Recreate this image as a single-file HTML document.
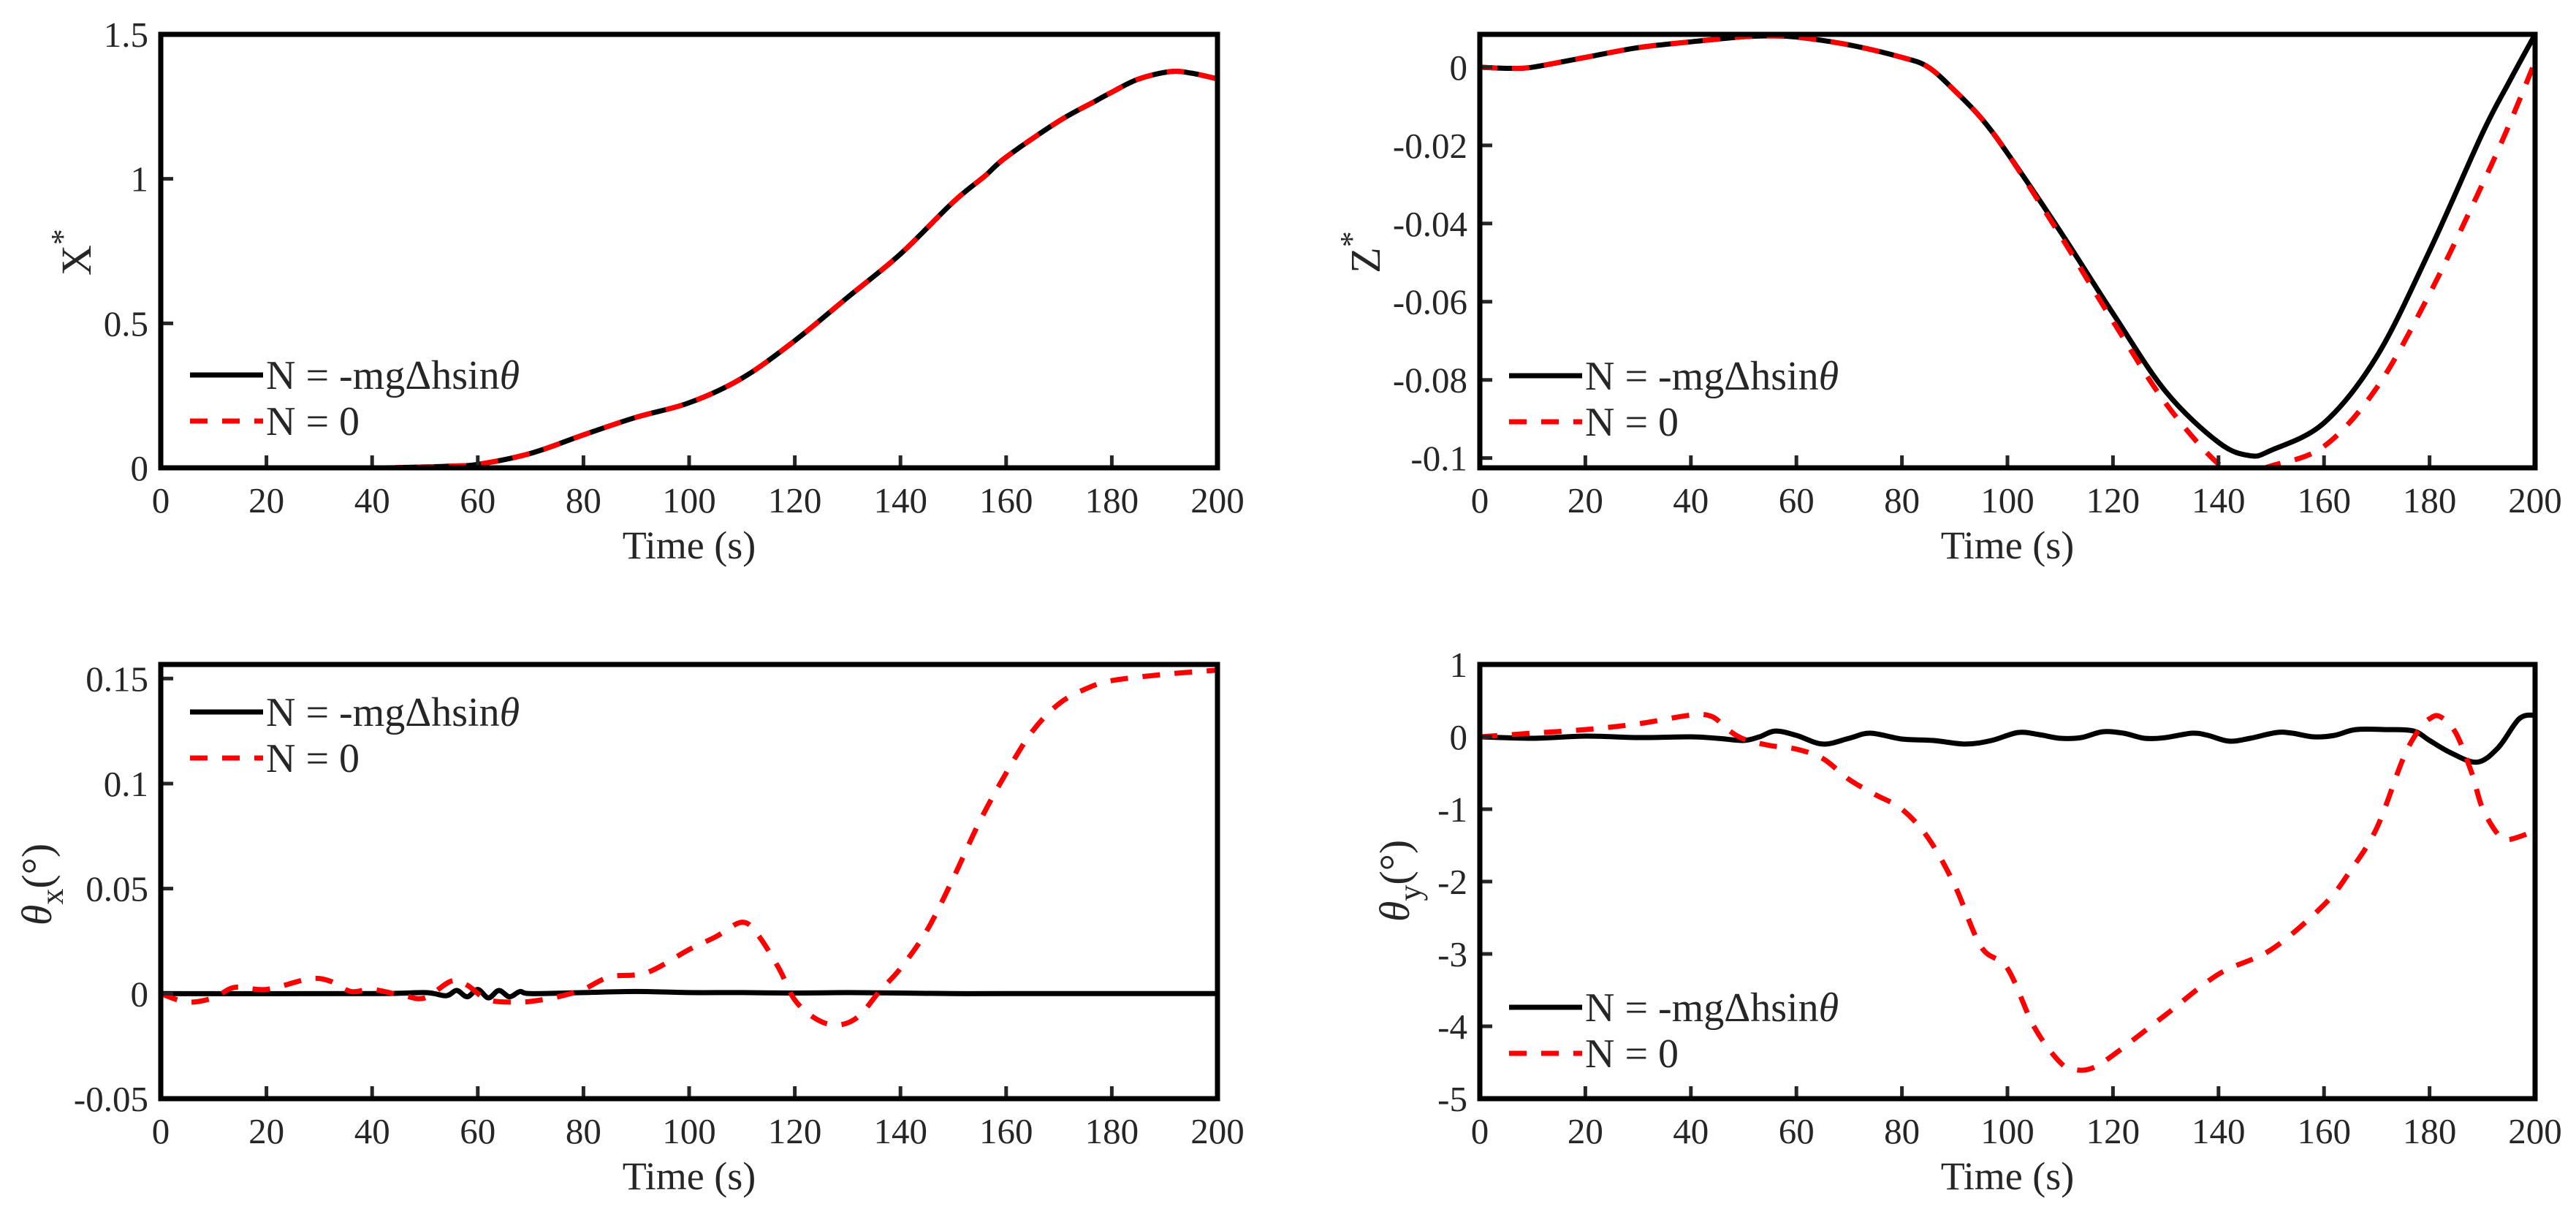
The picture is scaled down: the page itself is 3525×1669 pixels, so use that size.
<!DOCTYPE html>
<html><head><meta charset="utf-8"><style>
html,body{margin:0;padding:0;background:#fff;}
svg{display:block;}
text{font-family:"Liberation Serif",serif;fill:#262626;}
</style></head><body>
<svg id="fig" width="3525" height="1669" viewBox="0 0 3525 1669" xmlns="http://www.w3.org/2000/svg"></svg>
<script>
// ---- Data ----
const tX = [0,40,45,50,55,60,70,80,90,100,110,120,130,140,150,156,160,170,177,180,185,191,195,200];
const xBlack = [0,0,0.001,0.003,0.006,0.012,0.05,0.114,0.175,0.225,0.31,0.44,0.59,0.74,0.92,1.01,1.075,1.2,1.27,1.3,1.345,1.371,1.366,1.346];
const xRed = xBlack.slice();

const tZb = [0,3,6,10,20,30,40,50,55,60,70,80,85,90,95,100,110,120,130,140,146,150,160,170,180,190,195,200];
const zBlack = [0,-0.0002,-0.0003,0,0.0025,0.005,0.0065,0.0078,0.008,0.0077,0.0057,0.0025,0,-0.006,-0.013,-0.022,-0.042,-0.063,-0.083,-0.096,-0.0994,-0.098,-0.091,-0.074,-0.047,-0.017,-0.004,0.0084];
const tZr = [0,3,6,10,20,30,40,50,55,60,70,80,85,90,95,100,110,120,130,140,145,150,160,170,180,190,195,200];
const zRed = [0,-0.0002,-0.0003,0,0.0025,0.005,0.0065,0.0078,0.008,0.0077,0.0057,0.0025,0,-0.006,-0.013,-0.022,-0.043,-0.065,-0.086,-0.1015,-0.1035,-0.102,-0.097,-0.082,-0.058,-0.03,-0.015,0.0014];

const tTx = [0,40,50,54,56,58,60,62,64,66,68,70,80,90,100,110,120,130,140,150,160,200];
const txBlack = [0,0,0.0005,-0.001,0.0015,-0.0015,0.002,-0.002,0.0015,-0.0015,0.001,0,0.0005,0.001,0.0005,0.0005,0.0003,0.0005,0.0003,0,0,0];
const tTxR = [0,5,10,14,20,28,32,36,40,46,50,55,58,62,68,72,76,80,85,92,100,105,110,113,117,120,124,128,132,136,140,145,150,155,160,165,170,175,180,190,200];
const txRed = [0,-0.004,-0.002,0.003,0.002,0.007,0.006,0.001,0.002,-0.001,-0.002,0.006,0.004,-0.003,-0.004,-0.003,-0.001,0.002,0.008,0.01,0.021,0.027,0.034,0.028,0.012,-0.003,-0.012,-0.015,-0.011,0.001,0.012,0.03,0.055,0.082,0.105,0.125,0.138,0.145,0.149,0.152,0.154];

const tTyB = [0,10,20,30,40,45,50,53,56,60,65,70,74,80,86,92,97,102,106,110,114,118,122,126,130,135,138,142,146,151,154,158,162,166,172,177,180,184,189,193,197,200];
const tyBlack = [0,-0.02,0.01,-0.01,0,-0.02,-0.05,0.0,0.08,0.02,-0.1,-0.02,0.05,-0.03,-0.05,-0.1,-0.05,0.06,0.03,-0.02,-0.01,0.07,0.05,-0.02,-0.01,0.05,0.02,-0.06,-0.02,0.06,0.05,0.0,0.02,0.1,0.1,0.08,-0.05,-0.22,-0.35,-0.15,0.25,0.3];
const tTyR = [0,10,20,30,40,44,47,50,55,60,65,70,75,80,85,90,95,100,105,110,113,116,120,130,140,150,160,165,170,175,178,180,182,185,188,190,193,195,200];
const tyRed = [0,0.05,0.1,0.18,0.3,0.28,0.1,-0.03,-0.12,-0.17,-0.3,-0.59,-0.8,-1.0,-1.4,-2.05,-2.9,-3.2,-4.0,-4.5,-4.6,-4.58,-4.4,-3.84,-3.28,-2.94,-2.32,-1.85,-1.26,-0.3,0.1,0.25,0.28,0.05,-0.5,-0.98,-1.35,-1.42,-1.3];

const xTicks = [0,20,40,60,80,100,120,140,160,180,200];
const yTicksTL = [0,0.5,1,1.5];
const yTicksTR = [0,-0.02,-0.04,-0.06,-0.08,-0.1];
const yTicksBL = [-0.05,0,0.05,0.1,0.15];
const yTicksBR = [1,0,-1,-2,-3,-4,-5];

const NS = "http://www.w3.org/2000/svg";
const svg = document.getElementById('fig');
function mk(tag, attrs, parent){
  const e = document.createElementNS(NS, tag);
  for (const k in attrs) e.setAttribute(k, attrs[k]);
  (parent||svg).appendChild(e);
  return e;
}
// smooth path through points (Catmull-Rom)
function smoothPath(pts){
  let d = 'M' + pts[0][0].toFixed(1) + ' ' + pts[0][1].toFixed(1);
  for (let i = 0; i < pts.length - 1; i++){
    const p0 = pts[Math.max(0,i-1)], p1 = pts[i], p2 = pts[i+1], p3 = pts[Math.min(pts.length-1,i+2)];
    const c1x = p1[0] + (p2[0]-p0[0])/6, c1y = p1[1] + (p2[1]-p0[1])/6;
    const c2x = p2[0] - (p3[0]-p1[0])/6, c2y = p2[1] - (p3[1]-p1[1])/6;
    d += ' C' + c1x.toFixed(1)+' '+c1y.toFixed(1)+' '+c2x.toFixed(1)+' '+c2y.toFixed(1)+' '+p2[0].toFixed(1)+' '+p2[1].toFixed(1);
  }
  return d;
}

function panel(o){
  const g = mk('g', {});
  
  
  const X = t => o.x0 + (t - 0) / 200 * (o.x1 - o.x0);
  const Y = v => o.y1 - (v - o.ymin) / (o.ymax - o.ymin) * (o.y1 - o.y0);
  const clipId = o.name + '-clip';
  const cp = mk('clipPath', {id: clipId}, g);
  mk('rect', {x:o.x0, y:o.y0, width:o.x1-o.x0, height:o.y1-o.y0}, cp);

  function series(ts, vs, color, dash, nm){
    const pts = ts.map((t,i)=>[X(t), Y(vs[i])]);
    const p = mk('path', {d:smoothPath(pts), fill:'none', stroke:color, 'stroke-width':7, 'stroke-linejoin':'round', 'clip-path':'url(#'+clipId+')'}, g);
    if (dash) p.setAttribute('stroke-dasharray', '24 20');
    
    
  }
  series(o.tb, o.vb, '#000', false, 'series-black-line');
  series(o.tr, o.vr, '#ff0000', true, 'series-red-dashed-line');

  xTicks.forEach(t=>{
    const tk = mk('line', {x1:X(t), x2:X(t), y1:o.y1, y2:o.y1-17, stroke:'#262626','stroke-width':5}, g);
    
    
    const lb = mk('text', {x:X(t), y:o.y1+61, 'font-size':49, 'text-anchor':'middle'}, g);
    lb.textContent = String(t);
    
    
  });
  o.yt.forEach(v=>{
    const tk = mk('line', {x1:o.x0, x2:o.x0+17, y1:Y(v), y2:Y(v), stroke:'#262626','stroke-width':5}, g);
    
    
    const lb = mk('text', {x:o.x0-17, y:Y(v)+17, 'font-size':49, 'text-anchor':'end'}, g);
    lb.textContent = String(v);
    
    
  });
  const fr = mk('rect', {x:o.x0, y:o.y0, width:o.x1-o.x0, height:o.y1-o.y0, fill:'none', stroke:'#000', 'stroke-width':7}, g);
  
  

  const xt = mk('text', {x:(o.x0+o.x1)/2, y:o.y1+124, 'font-size':54, 'text-anchor':'middle'}, g);
  xt.textContent = 'Time (s)';
  
  

  const yt = mk('text', {x:0, y:0, 'font-size':58, 'text-anchor':'middle', transform:'translate('+o.ylx+','+o.yly+') rotate(-90)'}, g);
  
  
  o.ylab(yt);

  const lg = mk('g', {}, g);
  
  
  const lx0 = o.x0 + 40, lx1 = o.x0 + 140;
  const e1 = mk('line', {x1:lx0, x2:lx1, y1:o.ly, y2:o.ly, stroke:'#000','stroke-width':7}, lg);
  
  
  const t1 = mk('text', {x:lx1+4, y:o.ly+19, 'font-size':56, fill:'#000'}, lg);
  
  
  t1.appendChild(document.createTextNode('N = -mg\u0394hsin'));
  const th = mk('tspan', {'font-style':'italic'}, t1); th.textContent = '\u03b8';
  const e2 = mk('line', {x1:lx0, x2:lx1, y1:o.ly+63, y2:o.ly+63, stroke:'#ff0000','stroke-width':7,'stroke-dasharray':'24 20'}, lg);
  
  
  const t2 = mk('text', {x:lx1+4, y:o.ly+63+19, 'font-size':56, fill:'#000'}, lg);
  t2.textContent = 'N = 0';
  
  
}

function starLabel(letter){
  return function(t){
    t.appendChild(document.createTextNode(letter));
    const s = mk('tspan', {dy:-24, 'font-size':44}, t); s.textContent = '*';
  };
}
function thetaLabel(sub){
  return function(t){
    const a = mk('tspan', {'font-style':'italic'}, t); a.textContent = '\u03b8';
    const b = mk('tspan', {dy:16, 'font-size':44}, t); b.textContent = sub;
    const c = mk('tspan', {dy:-16}, t); c.textContent = '(\u00b0)';
  };
}

panel({name:'panel-x-star', x0:220, x1:1666, y0:47, y1:640, ymin:0, ymax:1.5,
  tb:tX, vb:xBlack, tr:tX, vr:xRed, yt:yTicksTL, ylx:124, yly:345, ylab:starLabel('X'), ly:513});
panel({name:'panel-z-star', x0:2025, x1:3469, y0:47, y1:640, ymin:-0.1025, ymax:0.0084,
  tb:tZb, vb:zBlack, tr:tZr, vr:zRed, yt:yTicksTR, ylx:1888, yly:345, ylab:starLabel('Z'), ly:514});
panel({name:'panel-theta-x', x0:220, x1:1666, y0:909, y1:1503, ymin:-0.05, ymax:0.1567,
  tb:tTx, vb:txBlack, tr:tTxR, vr:txRed, yt:yTicksBL, ylx:70, yly:1210, ylab:thetaLabel('x'), ly:974});
panel({name:'panel-theta-y', x0:2025, x1:3469, y0:909, y1:1503, ymin:-5, ymax:1,
  tb:tTyB, vb:tyBlack, tr:tTyR, vr:tyRed, yt:yTicksBR, ylx:1928, yly:1205, ylab:thetaLabel('y'), ly:1378});
</script>
</body></html>
